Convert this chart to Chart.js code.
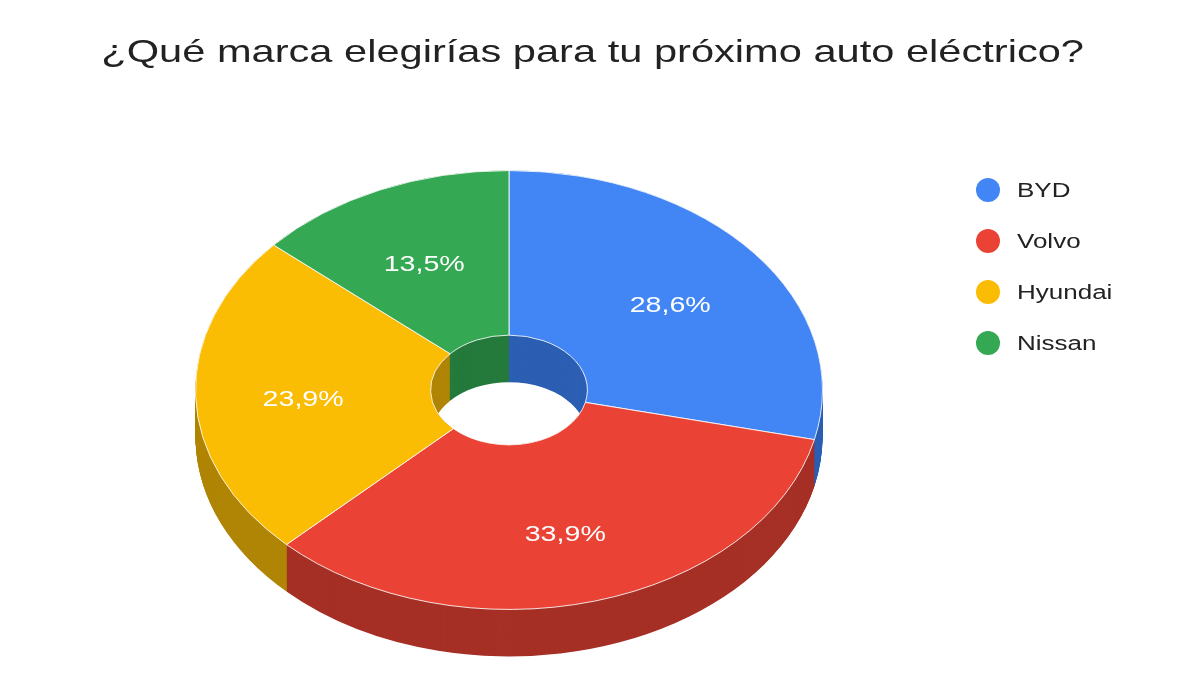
<!DOCTYPE html>
<html><head><meta charset="utf-8">
<script src="https://cdn.jsdelivr.net/npm/chart.js@4"></script>
<style>
body{margin:0;background:#fff;font-family:"Liberation Sans",Arial,sans-serif}
#wrap{position:relative;width:1200px;height:675px}
#title{position:absolute;left:0;width:1185px;top:33px;text-align:center;font-size:32px;color:#222;transform:scaleX(1.3);transform-origin:592px 0}
.leg{position:absolute;left:976px;font-size:20px;color:#222;height:26px;line-height:26px}
.leg span{display:inline-block;width:24px;height:24px;border-radius:50%;vertical-align:middle;margin-right:17px;margin-top:-3px}
.leg b{font-weight:normal;display:inline-block;transform:scaleX(1.3);transform-origin:0 0}
</style></head><body>
<div id="wrap"><canvas id="c" width="1200" height="675"></canvas>
<div id="title">¿Qué marca elegirías para tu próximo auto eléctrico?</div>
<div id="legend"></div></div>
<script>
const categories=["BYD","Volvo","Hyundai","Nissan"];
const values=[28.6,33.9,23.9,13.5];
const labels=["28,6%","33,9%","23,9%","13,5%"];
const colors=["#4285F4","#EA4335","#FBBC04","#34A853"];
const darkColors=["#2c5fb3","#a63026","#b08505","#257a3c"];
const lg=document.getElementById('legend');
categories.forEach((c,i)=>{const d=document.createElement('div');d.className='leg';d.style.top=(177+i*51)+'px';d.innerHTML='<span style="background:'+colors[i]+'"></span><b>'+c+'</b>';lg.appendChild(d);});
const RATIO=0.7, CY_SCREEN=390, DEPTH=47/RATIO;
const plugin={id:'tilt',
 beforeDatasetsDraw(chart){const ctx=chart.ctx;const m=chart.getDatasetMeta(0);const cy=m.data[0].y;
  ctx.save();ctx.translate(0,CY_SCREEN);ctx.scale(1,RATIO);ctx.translate(0,-cy);
  for(let d=DEPTH;d>0;d-=1){m.data.forEach((a,i)=>{ctx.beginPath();ctx.arc(a.x,a.y+d,a.outerRadius,a.startAngle,a.endAngle);ctx.arc(a.x,a.y+d,a.innerRadius,a.endAngle,a.startAngle,true);ctx.closePath();ctx.fillStyle=darkColors[i];ctx.fill();});}
 },
 afterDatasetsDraw(chart){chart.ctx.restore();},
 afterDraw(chart){const ctx=chart.ctx;const m=chart.getDatasetMeta(0);
  m.data.forEach((a,i)=>{const mid=(a.startAngle+a.endAngle)/2;const r=(a.outerRadius+a.innerRadius)/2+10;
   const x=a.x+Math.cos(mid)*r, y=CY_SCREEN+Math.sin(mid)*r*RATIO+6;
   ctx.save();ctx.translate(x,y);ctx.scale(1.3,1);
   ctx.font='22px "Liberation Sans",Arial';ctx.fillStyle='#fff';ctx.textAlign='center';ctx.textBaseline='middle';
   ctx.fillText(labels[i],0,0);ctx.restore();});
 }
};
new Chart(document.getElementById('c'),{type:'doughnut',
 data:{labels:categories,datasets:[{data:values,backgroundColor:colors,borderColor:'#fff',borderWidth:1,hoverOffset:0}]},
 options:{responsive:false,animation:false,cutout:'25%',
  layout:{padding:{left:195,right:377,top:23,bottom:24}},
  plugins:{legend:{display:false},tooltip:{enabled:false}}},
 plugins:[plugin]});
</script></body></html>
